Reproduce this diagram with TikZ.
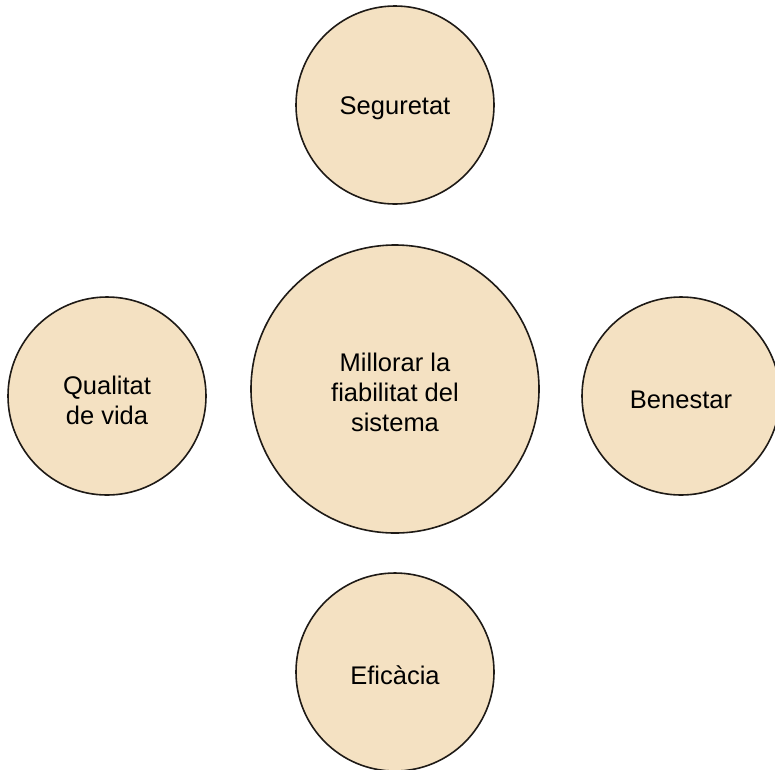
\documentclass[tikz,border=0pt]{standalone}
\usepackage{fontspec}
\setmainfont{Liberation Sans}
\definecolor{circfill}{HTML}{F4E1C2}
\definecolor{circline}{HTML}{1E1A16}
\begin{document}
\begin{tikzpicture}[x=1pt,y=-1pt,
  bubble/.style={circle,draw=circline,fill=circfill,line width=1.6pt,inner sep=0pt},
  small/.style={bubble,minimum size=198pt},
  big/.style={bubble,minimum size=288pt},
  txt/.style={align=center,font=\fontsize{25.5}{30}\selectfont,text=black,inner sep=0pt}]
\useasboundingbox (0,0) rectangle (775,769);
\node[big] (centre) at (395,389) {};
\node[small] (seg) at (395,105) {};
\node[small] (qual) at (107,396) {};
\node[small] (ben) at (681,396) {};
\node[small] (efi) at (395,672) {};
\node[txt] (tcentre) at ([yshift=-3pt]centre.center) {Millorar la\\fiabilitat del\\sistema};
\node[txt] (tseg) at ([yshift=-3pt]seg.center) {Seguretat};
\node[txt] (tqual) at ([yshift=-4pt]qual.center) {Qualitat\\de vida};
\node[txt] (tben) at ([yshift=-4pt]ben.center) {Benestar};
\node[txt] (tefi) at ([yshift=-3pt]efi.center) {Eficàcia};
\end{tikzpicture}
\end{document}
